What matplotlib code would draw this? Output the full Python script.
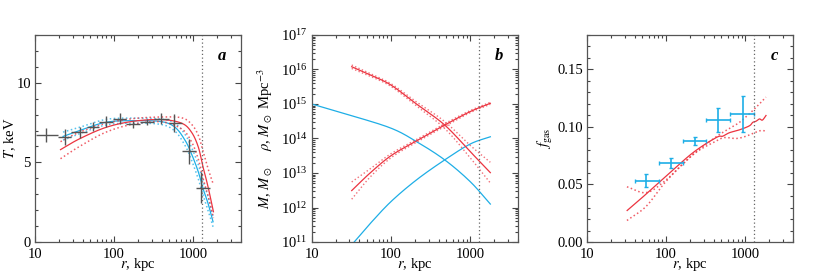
import matplotlib
matplotlib.use('Agg')
import matplotlib.pyplot as plt
import matplotlib.ticker as mticker
import numpy as np

plt.rcParams['font.family'] = ['Liberation Serif', 'DejaVu Serif']
plt.rcParams['mathtext.fontset'] = 'stix'
plt.rcParams['font.size'] = 10.5

RED = '#ec3440'
BLUE = '#1eaee6'
R500 = 1300

# --- panel a: temperature profile ---
t_r = [13.7, 23.7, 36.5, 53.6, 78.7, 119, 174, 261, 394, 579, 883, 1270]
t_rlo = [10.3, 19.5, 28.7, 46, 65, 97, 143, 215, 316, 487, 714, 1070]
t_rhi = [19.5, 28.7, 46, 65, 97, 143, 215, 316, 487, 714, 1070, 1620]
t_val = [6.7, 6.58, 6.9, 7.25, 7.56, 7.73, 7.38, 7.52, 7.73, 7.46, 5.69, 3.42]
t_err = [0.45, 0.5, 0.35, 0.3, 0.35, 0.35, 0.2, 0.2, 0.35, 0.57, 0.78, 1.0]

ta_red_r = [21, 36.5, 79, 174, 394, 714, 950, 1160, 1330, 1540, 1800]
ta_red = [5.8, 6.48, 7.2, 7.58, 7.69, 7.46, 6.9, 5.96, 4.71, 3.46, 1.9]
ta_red_hi = [6.3, 6.9, 7.45, 7.75, 7.85, 7.8, 7.4, 6.7, 5.7, 4.6, 3.6]
ta_red_lo = [5.23, 6.0, 6.9, 7.4, 7.55, 7.1, 6.3, 5.2, 4.0, 2.9, 1.5]

ta_blue_r = [22.6, 36.5, 79, 174, 394, 590, 790, 950, 1160, 1330, 1540, 1780]
ta_blue = [6.63, 7.0, 7.52, 7.62, 7.56, 7.2, 6.38, 5.54, 4.4, 3.35, 2.42, 1.27]
ta_blue_hi = [6.9, 7.2, 7.7, 7.78, 7.72, 7.45, 6.75, 5.95, 4.85, 3.8, 2.85, 1.6]
ta_blue_lo = [6.4, 6.8, 7.35, 7.46, 7.38, 6.95, 6.05, 5.15, 3.95, 2.95, 2.0, 0.95]

# --- panel b: density and mass profiles (log10 values) ---
rho_red_r = [32, 54, 100, 210, 477, 1000, 1795]
rho_red = [16.08, 15.85, 15.55, 15.0, 14.39, 13.62, 13.01]
m_red_r = [32, 54, 100, 210, 477, 1000, 1795]
m_red = [12.49, 12.99, 13.5, 13.93, 14.39, 14.78, 15.02]
rho_blue_r = [10, 30, 100, 210, 477, 1000, 1795]
rho_blue = [15.0, 14.68, 14.3, 13.91, 13.38, 12.75, 12.10]
m_blue_r = [34.4, 54, 100, 210, 477, 1000, 1795]
m_blue = [11.0, 11.52, 12.17, 12.8, 13.38, 13.84, 14.05]
rho_red_spread = [0.05, 0.04, 0.04, 0.06, 0.1, 0.18, 0.3]
m_red_spread = [0.25, 0.12, 0.06, 0.04, 0.04, 0.03, 0.03]

# --- panel c: gas fraction ---
f_r = [56.5, 114, 229, 450, 931]
f_rlo = [41, 80.7, 163, 321, 645]
f_rhi = [80.7, 163, 321, 645, 1306]
f_val = [0.0528, 0.0689, 0.0878, 0.1062, 0.1112]
f_errlo = [0.0049, 0.0044, 0.0035, 0.0105, 0.0155]
f_errhi = [0.0059, 0.0044, 0.0039, 0.0100, 0.0155]

fc_r = [32.2, 46.5, 100, 219, 430, 520, 630, 845, 1130, 1245, 1370, 1515, 1650, 1833]
fc = [0.0274, 0.0368, 0.0572, 0.0777, 0.0908, 0.092, 0.095, 0.0975, 0.101, 0.104, 0.105, 0.107, 0.106, 0.110]
fc_hi_r = [32, 56.5, 100, 219, 430, 660, 845, 1180, 1510, 1830]
fc_hi = [0.048, 0.043, 0.054, 0.076, 0.0915, 0.0995, 0.104, 0.1127, 0.12, 0.126]
fc_lo_r = [32, 56, 100, 219, 430, 550, 770, 1025, 1510, 1800]
fc_lo = [0.0187, 0.031, 0.0528, 0.076, 0.0878, 0.0908, 0.090, 0.092, 0.0966, 0.0966]


def smooth(rs, vs, n=25):
    # Catmull-Rom curve through the read-off points, in log r
    x = np.log10(rs)
    y = np.asarray(vs, dtype=float)
    x = np.concatenate([[2 * x[0] - x[1]], x, [2 * x[-1] - x[-2]]])
    y = np.concatenate([[2 * y[0] - y[1]], y, [2 * y[-1] - y[-2]]])
    t = np.linspace(0, 1, n)[:, None]
    out = []
    for i in range(1, len(x) - 2):
        p = np.array([[x[i - 1], y[i - 1]], [x[i], y[i]], [x[i + 1], y[i + 1]], [x[i + 2], y[i + 2]]])
        seg = 0.5 * (2 * p[1] + (-p[0] + p[2]) * t + (2 * p[0] - 5 * p[1] + 4 * p[2] - p[3]) * t ** 2
                     + (-p[0] + 3 * p[1] - 3 * p[2] + p[3]) * t ** 3)
        out.append(seg if i == 1 else seg[1:])
    out = np.vstack(out)
    return 10 ** out[:, 0], out[:, 1]


def style(ax, letter, ylab_x):
    ax.set_xscale('log')
    ax.set_xlim(10, 4000)
    ax.set_xticks([10, 100, 1000])
    ax.set_xticklabels(['10', '100', '1000'])
    ax.tick_params(which='both', direction='in', top=True, right=True, width=0.8, color='#444444')
    ax.tick_params(which='major', length=4.5)
    ax.tick_params(which='minor', length=2.5)
    ax.tick_params(axis='x', pad=4)
    ax.tick_params(axis='y', pad=3)
    for s in ax.spines.values():
        s.set_color('#555555')
        s.set_linewidth(0.9)
    ax.axvline(R500, color='#666666', ls=(0, (1, 2)), lw=0.9)
    ax.text(0.91, 0.9, letter, transform=ax.transAxes, fontsize=12,
            fontweight='bold', fontstyle='italic', ha='center', va='center')
    ax.set_xlabel('$r$, kpc')
    ax.xaxis.set_label_coords(0.5, -0.07)
    ax.yaxis.set_label_coords(ylab_x, 0.5)


fig = plt.figure(figsize=(8.3, 2.79), dpi=100)
ax_a = fig.add_axes([0.0422, 0.1326, 0.248, 0.742])
ax_b = fig.add_axes([0.3755, 0.1326, 0.2485, 0.742])
ax_c = fig.add_axes([0.7072, 0.1326, 0.248, 0.742])

# panel a
ax = ax_a
for rr, vv, ls in [(ta_blue_r, ta_blue_hi, ':'), (ta_blue_r, ta_blue_lo, ':'), (ta_blue_r, ta_blue, '-')]:
    x, y = smooth(rr, vv)
    ax.plot(x, y, color=BLUE, ls=ls, lw=0.9 if ls == '-' else 1.1, alpha=1 if ls == '-' else 0.75)
for rr, vv, ls in [(ta_red_r, ta_red_hi, ':'), (ta_red_r, ta_red_lo, ':'), (ta_red_r, ta_red, '-')]:
    x, y = smooth(rr, vv)
    ax.plot(x, y, color=RED, ls=ls, lw=0.9 if ls == '-' else 1.1, alpha=1 if ls == '-' else 0.8)
t_r_a = np.array(t_r)
ax.errorbar(t_r, t_val, yerr=t_err,
            xerr=[t_r_a - np.array(t_rlo), np.array(t_rhi) - t_r_a],
            fmt='none', ecolor='#555555', elinewidth=1.0, capsize=0)
ax.set_ylim(0, 13)
ax.yaxis.set_major_locator(mticker.FixedLocator([0, 5, 10]))
ax.yaxis.set_minor_locator(mticker.MultipleLocator(1))
ax.set_ylabel('$T$, keV')
style(ax, 'a', -0.082)

# panel b
ax = ax_b
for rr, vv in [(rho_blue_r, rho_blue), (m_blue_r, m_blue)]:
    x, y = smooth(rr, vv)
    ax.plot(x, 10 ** y, color=BLUE, lw=0.9)
for rr, vv, sp in [(rho_red_r, rho_red, rho_red_spread), (m_red_r, m_red, m_red_spread)]:
    x, y = smooth(rr, vv)
    _, s = smooth(rr, sp)
    ax.plot(x, 10 ** y, color=RED, lw=0.9)
    ax.plot(x, 10 ** (y + s), color=RED, ls=':', lw=1.0, alpha=0.7)
    ax.plot(x, 10 ** (y - s), color=RED, ls=':', lw=1.0, alpha=0.7)
ax.set_yscale('log')
ax.set_ylim(1e11, 1e17)
ax.yaxis.set_major_locator(mticker.FixedLocator([10.0 ** k for k in range(11, 18)]))
ax.yaxis.set_major_formatter(mticker.LogFormatterSciNotation())
ax.yaxis.set_minor_locator(mticker.LogLocator(base=10, subs=np.arange(2, 10), numticks=20))
ax.set_ylabel(r'$M$, $M_\odot$    $\rho$, $M_\odot$ Mpc$^{-3}$')
style(ax, 'b', -0.178)

# panel c
ax = ax_c
x, y = smooth(fc_hi_r, fc_hi)
ax.plot(x, y, color=RED, ls=':', lw=1.1, alpha=0.8)
x, y = smooth(fc_lo_r, fc_lo)
ax.plot(x, y, color=RED, ls=':', lw=1.1, alpha=0.8)
x, y = smooth(fc_r, fc)
ax.plot(x, y, color=RED, lw=0.9)
f_r_a = np.array(f_r)
ax.errorbar(f_r, f_val, yerr=[f_errlo, f_errhi],
            xerr=[f_r_a - np.array(f_rlo), np.array(f_rhi) - f_r_a],
            fmt='none', ecolor=BLUE, elinewidth=1.2, capsize=1.5, capthick=1.0)
ax.set_ylim(0, 0.18)
ax.yaxis.set_major_locator(mticker.FixedLocator([0, 0.05, 0.10, 0.15]))
ax.yaxis.set_major_formatter(mticker.FormatStrFormatter('%.2f'))
ax.yaxis.set_minor_locator(mticker.MultipleLocator(0.01))
ax.set_ylabel(r'$f_{\rm gas}$')
style(ax, 'c', -0.155)

fig.savefig('out.png', dpi=100)
